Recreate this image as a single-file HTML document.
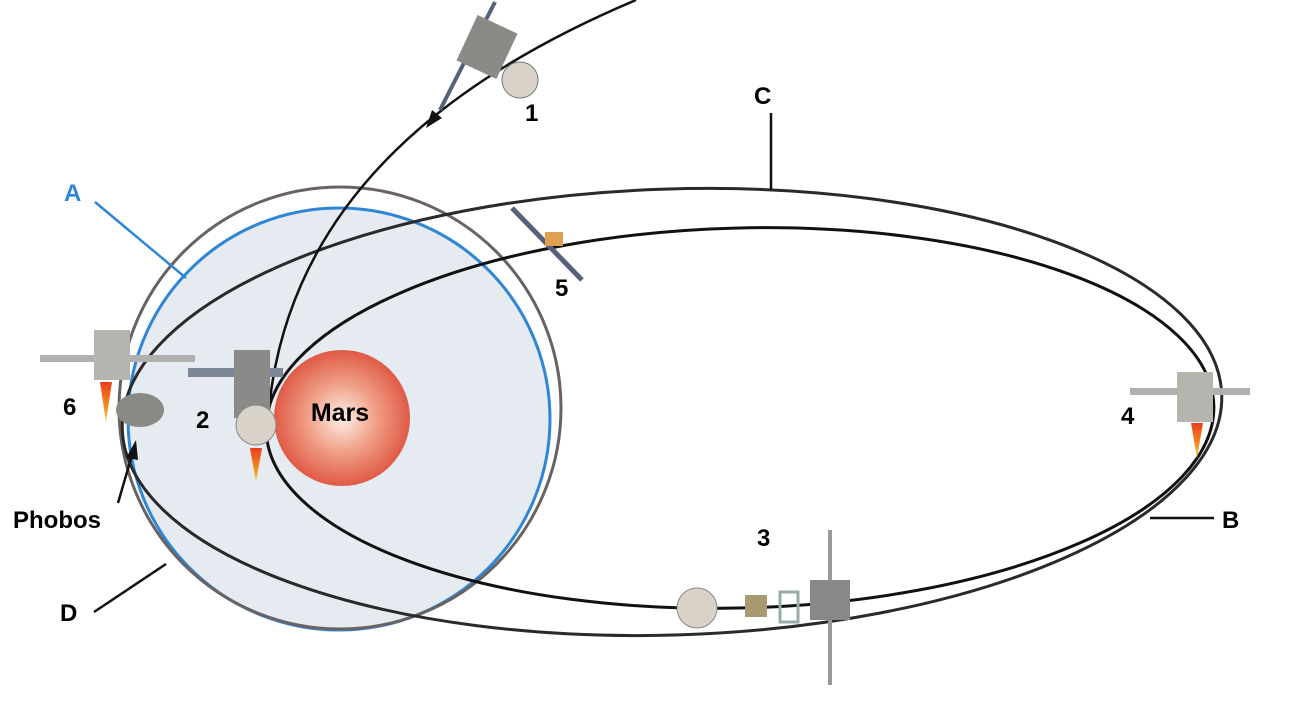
<!DOCTYPE html>
<html><head><meta charset="utf-8"><style>
html,body{margin:0;padding:0;background:#fff;}
svg{display:block;}
text{font-family:"Liberation Sans",Arial,sans-serif;font-weight:bold;}
</style></head><body>
<svg width="1304" height="722" viewBox="0 0 1304 722" xmlns="http://www.w3.org/2000/svg">
<defs>
<radialGradient id="mars" cx="50%" cy="50%" r="50%">
<stop offset="0" stop-color="#fdf0e8"/>
<stop offset="0.5" stop-color="#f0a088"/>
<stop offset="1" stop-color="#e05a45"/>
</radialGradient>
<linearGradient id="flame" x1="0" y1="0" x2="0" y2="1">
<stop offset="0" stop-color="#e8401a"/>
<stop offset="0.6" stop-color="#f58a20"/>
<stop offset="1" stop-color="#ffd040"/>
</linearGradient>
</defs>
<circle cx="339" cy="419" r="211" fill="#e6eaf1" stroke="#2f86d6" stroke-width="3"/>
<circle cx="340" cy="408" r="221" fill="none" stroke="#6a6262" stroke-width="3"/>
<circle cx="342" cy="418" r="68" fill="url(#mars)"/>
<text x="340" y="421" font-size="25" text-anchor="middle" fill="#000">Mars</text>
<ellipse cx="672" cy="412" rx="550" ry="223" transform="rotate(-1.8 672 412)" fill="none" stroke="#2a2a2a" stroke-width="3"/>
<ellipse cx="740" cy="418" rx="474" ry="190" transform="rotate(-1.5 740 418)" fill="none" stroke="#111" stroke-width="3"/>
<path d="M636,0 C470,70 285,190 268,420" fill="none" stroke="#111" stroke-width="2.5"/>
<polygon points="426,128 432,110 442,118" fill="#111"/>
<line x1="95" y1="202" x2="186" y2="278" stroke="#2f86d6" stroke-width="2.5"/>
<line x1="771" y1="113" x2="771" y2="190" stroke="#111" stroke-width="2.5"/>
<line x1="1150" y1="518" x2="1214" y2="518" stroke="#111" stroke-width="2.5"/>
<line x1="94" y1="612" x2="166" y2="564" stroke="#111" stroke-width="2.5"/>
<line x1="118" y1="503" x2="132" y2="455" stroke="#111" stroke-width="2.5"/>
<polygon points="136,440 126,458 138,460" fill="#111"/>
<text x="64" y="201" font-size="24" fill="#2f86d6">A</text>
<text x="754" y="104" font-size="24" fill="#000">C</text>
<text x="1222" y="528" font-size="24" fill="#000">B</text>
<text x="60" y="621" font-size="24" fill="#000">D</text>
<text x="13" y="528" font-size="24" fill="#000">Phobos</text>
<text x="525" y="121" font-size="24" fill="#000">1</text>
<text x="196" y="428" font-size="24" fill="#000">2</text>
<text x="757" y="546" font-size="24" fill="#000">3</text>
<text x="1121" y="424" font-size="24" fill="#000">4</text>
<text x="555" y="296" font-size="24" fill="#000">5</text>
<text x="63" y="415" font-size="24" fill="#000">6</text>
<line x1="440" y1="110" x2="495" y2="2" stroke="#55627a" stroke-width="4"/>
<rect x="465" y="22" width="44" height="50" fill="#8a8a86" transform="rotate(25 487 47)"/>
<circle cx="520" cy="80" r="18" fill="#d8d2c8" stroke="#777"/>
<rect x="188" y="368" width="95" height="9" fill="#7d8696"/>
<rect x="234" y="350" width="36" height="68" fill="#8a8a88"/>
<circle cx="256" cy="425" r="20" fill="#d8d2c8" stroke="#888"/>
<path d="M250,448 L262,448 L256,482 Z" fill="url(#flame)"/>
<rect x="40" y="355" width="155" height="7" fill="#b0b0b0"/>
<rect x="94" y="330" width="36" height="50" fill="#b5b5b0"/>
<path d="M100,382 L112,382 L106,422 Z" fill="url(#flame)"/>
<ellipse cx="140" cy="410" rx="24" ry="17" fill="#8a8a85"/>
<rect x="1130" y="388" width="120" height="7" fill="#b0b0b0"/>
<rect x="1177" y="372" width="36" height="50" fill="#b5b5b0"/>
<path d="M1191,423 L1203,423 L1197,458 Z" fill="url(#flame)"/>
<line x1="512" y1="208" x2="582" y2="280" stroke="#55627a" stroke-width="5"/>
<rect x="545" y="232" width="18" height="14" fill="#e0a050"/>
<circle cx="697" cy="608" r="20" fill="#d8d2c8" stroke="#888"/>
<rect x="745" y="595" width="22" height="22" fill="#a89a70"/>
<rect x="780" y="592" width="18" height="30" fill="none" stroke="#9aa" stroke-width="3"/>
<line x1="830" y1="530" x2="830" y2="685" stroke="#999" stroke-width="4"/>
<rect x="810" y="580" width="40" height="40" fill="#888"/>
</svg>
</body></html>
